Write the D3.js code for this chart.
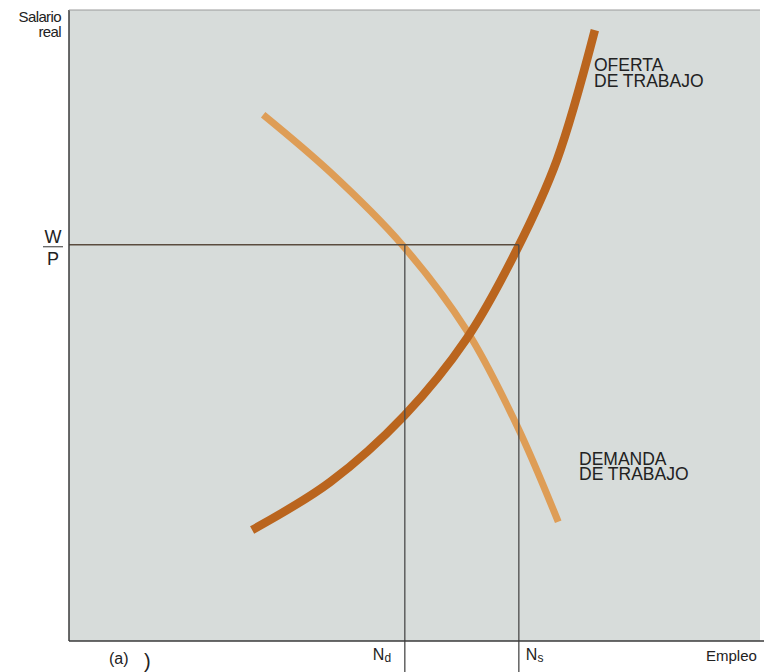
<!DOCTYPE html>
<html>
<head>
<meta charset="utf-8">
<script src="https://cdn.jsdelivr.net/npm/d3@7"></script>
<style>
  body { margin: 0; background: #fff; }
  svg { display: block; font-family: "Liberation Sans", Arial, Helvetica, sans-serif; }
</style>
</head>
<body>
<svg id="chart" width="764" height="672"></svg>
<script>
// Curves (arbitrary units, 0..100 on both axes)
const demandX = [28.1, 37.8, 48.2, 57.5, 64.8, 70.8];
const demandY = [83.4, 74.3, 62.8, 49.3, 34.2, 18.9];
const supplyX = [26.5, 37.8, 48.6, 57.6, 64.8, 70.6, 76.1];
const supplyY = [17.6, 25.2, 35.8, 48.0, 62.0, 76.2, 96.8];

// reference values
const realWage = 62.8;   // W/P
const nDemand = 48.6;    // Nd
const nSupply = 65.1;    // Ns

const yLabel = ["Salario", "real"];
const xLabel = "Empleo";
const supplyLabel = ["OFERTA", "DE TRABAJO"];
const demandLabel = ["DEMANDA", "DE TRABAJO"];

const svg = d3.select("#chart");
const width = 764;
const height = 672;
const margin = { top: 10, right: 4, bottom: 31, left: 69 };

const x = d3.scaleLinear().domain([0, 100]).range([margin.left, width - margin.right]);
const y = d3.scaleLinear().domain([0, 100]).range([height - margin.bottom, margin.top]);

// plot background
svg.append("rect")
  .attr("x", x(0))
  .attr("y", y(100))
  .attr("width", x(100) - x(0))
  .attr("height", y(0) - y(100))
  .attr("fill", "#d7dcda");

const line = d3.line()
  .curve(d3.curveCatmullRom.alpha(0.5))
  .x((d) => x(d[0]))
  .y((d) => y(d[1]));

const demand = d3.zip(demandX, demandY);
const supply = d3.zip(supplyX, supplyY);

svg.append("path")
  .datum(demand)
  .attr("fill", "none")
  .attr("stroke", "#de9d56")
  .attr("stroke-width", 7)
  .attr("d", line);

svg.append("path")
  .datum(supply)
  .attr("fill", "none")
  .attr("stroke", "#ba651e")
  .attr("stroke-width", 8.5)
  .attr("d", line);

// guide lines
svg.append("line")
  .attr("x1", x(0)).attr("x2", x(nSupply))
  .attr("y1", y(realWage)).attr("y2", y(realWage))
  .attr("stroke", "#5a4c3e").attr("stroke-width", 1.5);

[nDemand, nSupply].forEach((v) => {
  svg.append("line")
    .attr("x1", x(v)).attr("x2", x(v))
    .attr("y1", y(realWage)).attr("y2", height)
    .attr("stroke", "#4a4a4a").attr("stroke-width", 1.3);
});

// axes (plain lines, no ticks)
svg.append("line")
  .attr("x1", x(0)).attr("x2", x(0))
  .attr("y1", y(100)).attr("y2", y(0))
  .attr("stroke", "#3a3a3a").attr("stroke-width", 1.5);
svg.append("line")
  .attr("x1", x(0)).attr("x2", width)
  .attr("y1", y(0)).attr("y2", y(0))
  .attr("stroke", "#3a3a3a").attr("stroke-width", 1.5);
svg.append("line")
  .attr("x1", x(0)).attr("x2", x(100))
  .attr("y1", y(100)).attr("y2", y(100))
  .attr("stroke", "#9a9a9a").attr("stroke-width", 1);

const ink = "#222";

// y label
svg.append("text")
  .attr("text-anchor", "end")
  .attr("fill", ink)
  .attr("font-size", 15)
  .attr("letter-spacing", -0.6)
  .selectAll("tspan")
  .data(yLabel)
  .join("tspan")
  .attr("x", 61)
  .attr("y", (d, i) => 22 + i * 15)
  .text((d) => d);

// W/P fraction
svg.append("text")
  .attr("x", 53).attr("y", y(realWage) - 2)
  .attr("text-anchor", "middle").attr("fill", ink).attr("font-size", 18)
  .text("W");
svg.append("line")
  .attr("x1", 43).attr("x2", 63)
  .attr("y1", y(realWage) + 2).attr("y2", y(realWage) + 2)
  .attr("stroke", "#555").attr("stroke-width", 1.2);
svg.append("text")
  .attr("x", 53).attr("y", y(realWage) + 20)
  .attr("text-anchor", "middle").attr("fill", ink).attr("font-size", 18)
  .text("P");

// Nd, Ns
function subLabel(xPos, main, sub) {
  const t = svg.append("text")
    .attr("x", xPos).attr("y", 660)
    .attr("fill", ink).attr("font-size", 16);
  t.append("tspan").text(main);
  t.append("tspan").attr("font-size", 12).attr("dy", 2).text(sub);
}
subLabel(x(nDemand) - 32, "N", "d");
subLabel(x(nSupply) + 7, "N", "s");

svg.append("text")
  .attr("x", 706).attr("y", 661)
  .attr("fill", ink).attr("font-size", 15)
  .text(xLabel);

svg.append("text")
  .attr("x", 109).attr("y", 664)
  .attr("fill", ink).attr("font-size", 16)
  .text("(a)");
svg.append("text")
  .attr("x", 144).attr("y", 668)
  .attr("fill", ink).attr("font-size", 20)
  .text(")");

// curve labels
function blockLabel(lines, xPos, yPos, step) {
  svg.append("text")
    .attr("fill", ink)
    .attr("font-size", 17.5)
    .selectAll("tspan")
    .data(lines)
    .join("tspan")
    .attr("x", xPos)
    .attr("y", (d, i) => yPos + i * step)
    .text((d) => d);
}
blockLabel(supplyLabel, 594, 71, 16);
blockLabel(demandLabel, 579, 465, 15);
</script>
</body>
</html>
